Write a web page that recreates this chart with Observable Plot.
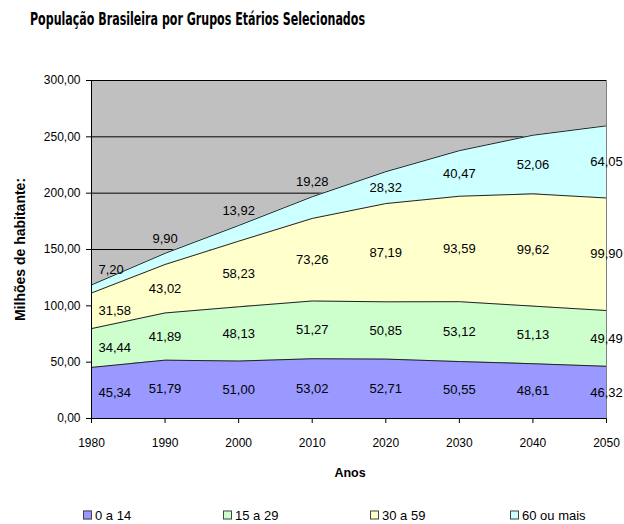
<!DOCTYPE html>
<html>
<head>
<meta charset="utf-8">
<script src="https://cdn.jsdelivr.net/npm/d3@7"></script>
<script src="https://cdn.jsdelivr.net/npm/@observablehq/plot@0.6"></script>
<style>
  html, body { margin: 0; padding: 0; background: #fff; }
  #wrap { position: relative; width: 624px; height: 524px; overflow: hidden; color: #000; font-family: 'Liberation Sans', Arial, sans-serif; }
  #chart { position: absolute; left: 0; top: 0; }
  #title { position: absolute; left: 30px; top: 10px; font-weight: bold; font-size: 18px; line-height: 18px; white-space: nowrap; transform-origin: 0 0; font-family: 'DejaVu Sans Condensed', sans-serif; }
  .leg { position: absolute; top: 515px; white-space: nowrap; transform: translateY(-50%); font-size: 13px; }
  .leg span { display: inline-block; width: 7px; height: 7px; border: 1px solid #444; margin-right: 3px; vertical-align: 0px; }
</style>
</head>
<body>
<div id="wrap">
  <div id="chart"></div>
  <div id="title">População Brasileira por Grupos Etários Selecionados</div>
  <div id="legend"></div>
</div>
<script>
const years = [1980, 1990, 2000, 2010, 2020, 2030, 2040, 2050];
const series = ["0 a 14", "15 a 29", "30 a 59", "60 ou mais"];
const pop0a14 = [45.34, 51.79, 51.00, 53.02, 52.71, 50.55, 48.61, 46.32];
const pop15a29 = [34.44, 41.89, 48.13, 51.27, 50.85, 53.12, 51.13, 49.49];
const pop30a59 = [31.58, 43.02, 58.23, 73.26, 87.19, 93.59, 99.62, 99.90];
const pop60mais = [7.20, 9.90, 13.92, 19.28, 28.32, 40.47, 52.06, 64.05];
const yTicks = [0, 50, 100, 150, 200, 250, 300];
const colors = ["#9999ff", "#ccffcc", "#ffffcc", "#ccffff"];
const legendX = [83, 223, 370, 510];
const yTitle = "Milhões de habitante:";
const xTitle = "Anos";

const values = [pop0a14, pop15a29, pop30a59, pop60mais];
const fmt = d => d.toFixed(2).replace(".", ",");

const data = [];
series.forEach((s, i) => years.forEach((y, j) => data.push({series: s, year: y, value: values[i][j]})));

// label positions: middle of each band; thin top bands labelled just above
const labels = [];
years.forEach((y, j) => {
  let base = 0;
  values.forEach((arr, i) => {
    const v = arr[j];
    let pos = base + v / 2;
    if (i === values.length - 1 && v < 20) pos = base + v + 13;
    labels.push({year: y, pos, text: fmt(v)});
    base += v;
  });
});

const chart = Plot.plot({
  width: 624,
  height: 480,
  marginTop: 80,
  marginLeft: 91,
  marginRight: 18,
  marginBottom: 62,
  style: {fontFamily: "'Liberation Sans', Arial, sans-serif", fontSize: "12px", color: "#000", background: "transparent", overflow: "visible"},
  x: {domain: [1980, 2050], ticks: years, tickFormat: d => String(d), tickSize: 5, tickPadding: 15, label: null},
  y: {domain: [0, 300], ticks: yTicks, tickFormat: fmt, tickSize: 5, tickPadding: 6, label: null},
  color: {domain: series, range: colors},
  marks: [
    Plot.frame({fill: "#c0c0c0", stroke: "none"}),
    Plot.ruleY(yTicks, {stroke: "#000", strokeWidth: 1}),
    Plot.areaY(data, {x: "year", y: "value", z: "series", fill: "series"}),
    Plot.lineY(data, Plot.stackY2({x: "year", y: "value", z: "series", stroke: "#222", strokeWidth: 1})),
    Plot.ruleX([2050], {stroke: "#808080"}),
    Plot.ruleX([1980], {stroke: "#000"}),
    Plot.ruleY([0], {stroke: "#000"}),
    Plot.text(labels.filter(d => d.year === 1980), {x: "year", y: "pos", text: "text", textAnchor: "start", dx: 7, fontSize: 13, fill: "#000"}),
    Plot.text(labels.filter(d => d.year !== 1980), {x: "year", y: "pos", text: "text", fontSize: 13, fill: "#000"}),
    Plot.text([yTitle], {frameAnchor: "left", textAnchor: "middle", lineAnchor: "middle", dx: -71, rotate: -90, fontWeight: "bold", fontSize: 14, fill: "#000"}),
    Plot.text([xTitle], {frameAnchor: "bottom", textAnchor: "middle", lineAnchor: "middle", dy: 54, dx: 1, fontWeight: "bold", fontSize: 12.5, fill: "#000"})
  ]
});
document.getElementById("chart").appendChild(chart);

// legend
const leg = document.getElementById("legend");
series.forEach((s, i) => {
  const d = document.createElement("div");
  d.className = "leg";
  d.style.left = legendX[i] + "px";
  d.innerHTML = `<span style="background:${colors[i]}"></span>${s}`;
  leg.appendChild(d);
});

// fit title to reference width
const t = document.getElementById("title");
const w = t.getBoundingClientRect().width;
t.style.transform = `scaleX(${335 / w})`;
</script>
</body>
</html>
